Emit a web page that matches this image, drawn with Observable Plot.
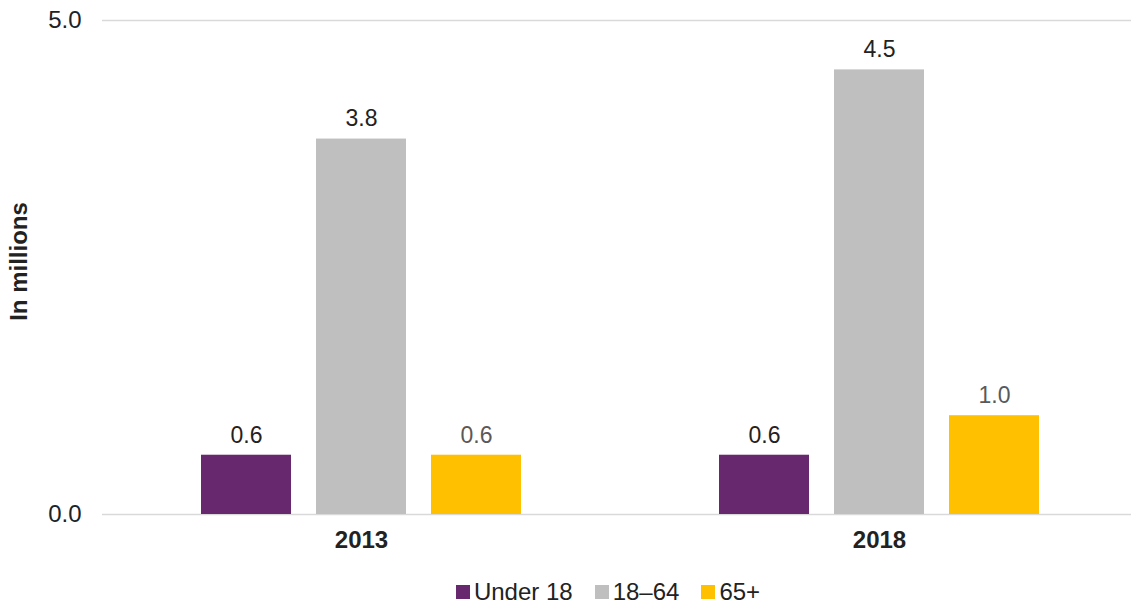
<!DOCTYPE html>
<html>
<head>
<meta charset="utf-8">
<script src="https://cdn.jsdelivr.net/npm/d3@7"></script>
<script src="https://cdn.jsdelivr.net/npm/@observablehq/plot@0.6"></script>
<style>
  body { margin: 0; background: #fff; font-family: "Liberation Sans", Arial, sans-serif; }
  #chart { width: 1131px; }
  .legend { display: flex; justify-content: center; align-items: center; gap: 22px; font-size: 24px; line-height: 27px; color: #222; margin-top: 13px; padding-left: 85px; }
  .legend span.item { display: flex; align-items: center; gap: 4px; }
  .legend span.sw { display: inline-block; width: 14px; height: 14px; }
</style>
</head>
<body>
<div id="chart"></div>
<script>
const years = ["2013", "2018"];
const groups = ["Under 18", "18–64", "65+"];
const values2013 = [0.6, 3.8, 0.6];
const values2018 = [0.6, 4.5, 1.0];
const colors = ["#68286E", "#BFBFBF", "#FFC000"];
const labelColors = ["#222222", "#222222", "#595959"];
const yTicks = [0, 5];

const data = [];
years.forEach((yr, i) => {
  const vals = i === 0 ? values2013 : values2018;
  groups.forEach((g, j) => data.push({year: yr, group: g, value: vals[j], labelColor: labelColors[j]}));
});

const plot = Plot.plot({
  width: 1131,
  height: 565,
  marginLeft: 101,
  marginRight: -7,
  marginTop: 20,
  marginBottom: 51,
  style: {fontFamily: "Liberation Sans, Arial, sans-serif", fontSize: "24px", color: "#222"},
  fx: {domain: years, padding: 0, label: null, axis: null},
  x: {domain: groups, paddingInner: 0.217, paddingOuter: 0.855, axis: null},
  y: {domain: [0, 5], label: null, axis: null},
  color: {domain: groups, range: colors},
  marks: [
    Plot.ruleY(yTicks, {y: d => d, stroke: "#d9d9d9", strokeWidth: 1.5}),
    Plot.barY(data, {fx: "year", x: "group", y: "value", fill: "group"}),
    Plot.text(data, {fx: "year", x: "group", y: "value", text: d => d.value.toFixed(1), dy: -20, fill: "labelColor", fontSize: 23}),
    Plot.axisFx({domain: years, anchor: "bottom", tickSize: 0, tickPadding: 16, fontWeight: "bold", fontSize: 24, label: null}),
    Plot.axisY({ticks: yTicks, tickFormat: d => d.toFixed(1), tickSize: 0, tickPadding: 21, fontSize: 24, label: null, facetAnchor: "left"}),
    Plot.text(["In millions"], {frameAnchor: "left", textAnchor: "middle", dx: -83, dy: -6, rotate: -90, fontWeight: "bold", fontSize: 24, facetAnchor: "left"})
  ]
});
document.getElementById("chart").appendChild(plot);

const legend = document.createElement("div");
legend.className = "legend";
groups.forEach((g, i) => {
  const item = document.createElement("span");
  item.className = "item";
  const sw = document.createElement("span");
  sw.className = "sw";
  sw.style.background = colors[i];
  item.appendChild(sw);
  item.appendChild(document.createTextNode(g));
  legend.appendChild(item);
});
document.getElementById("chart").appendChild(legend);
</script>
</body>
</html>
